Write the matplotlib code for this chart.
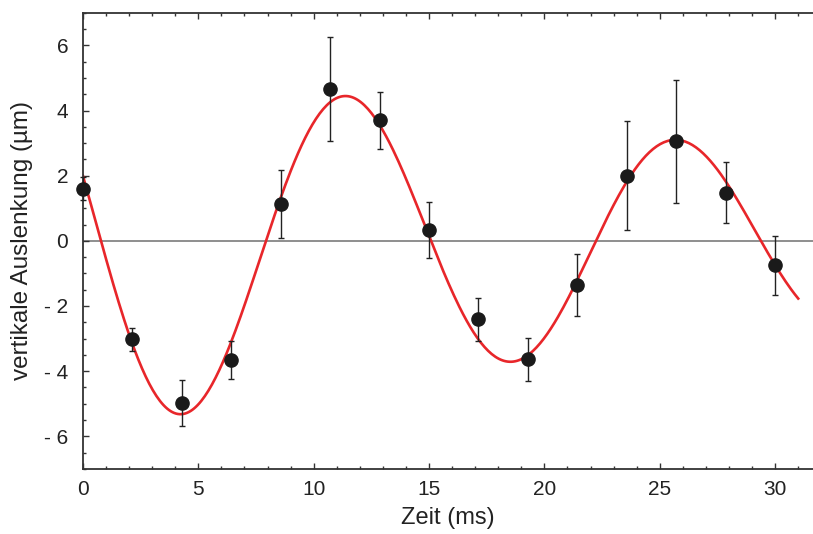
import numpy as np
import matplotlib
matplotlib.use("Agg")
import matplotlib.pyplot as plt
from matplotlib.ticker import MultipleLocator, FuncFormatter

plt.rcParams['font.family'] = ['Liberation Sans', 'DejaVu Sans']

# Messpunkte (Zeit in ms, Auslenkung in µm, Fehler)
zeit = [0.0, 2.14, 4.29, 6.43, 8.57, 10.71, 12.86, 15.0,
        17.14, 19.29, 21.43, 23.57, 25.71, 27.86, 30.0]
auslenkung = [1.6, -3.02, -4.98, -3.66, 1.12, 4.66, 3.70, 0.33,
              -2.41, -3.64, -1.36, 2.0, 3.05, 1.48, -0.75]
fehler = [0.35, 0.35, 0.7, 0.58, 1.04, 1.6, 0.88, 0.86,
          0.67, 0.66, 0.95, 1.68, 1.9, 0.94, 0.9]

# Fitparameter der gedaempften Schwingung
amp = 5.93      # µm
tau = 39.7      # ms
periode = 14.3  # ms
phase = 1.227   # rad
t_ende = 31.0

t = np.linspace(0, t_ende, 400)
fit = amp * np.exp(-t / tau) * np.cos(2 * np.pi / periode * t + phase)

fig = plt.figure(figsize=(8.13, 5.34), dpi=100)
ax = fig.add_axes([0.102, 0.122, 0.898, 0.854])

ax.axhline(0, color='#707070', lw=1.1, zorder=1)
ax.plot(t, fit, color='#e8262a', lw=1.9, zorder=2)
ax.errorbar(zeit, auslenkung, yerr=fehler, fmt='o', color='#1a1a1a',
            ms=9.5, ecolor='#222222', elinewidth=1.0, capsize=2.2,
            capthick=1.0, zorder=3, clip_on=False)

ax.set_xlim(0, 31.64)
ax.set_ylim(-7, 7)
ax.xaxis.set_major_locator(MultipleLocator(5))
ax.xaxis.set_minor_locator(MultipleLocator(1))
ax.yaxis.set_major_locator(MultipleLocator(2))
ax.yaxis.set_minor_locator(MultipleLocator(0.5))
ax.yaxis.set_major_formatter(FuncFormatter(
    lambda v, p: ('- %d' % -v) if v < 0 else '%d' % v))

ax.spines['right'].set_visible(False)
for s in ['left', 'bottom', 'top']:
    ax.spines[s].set_color('#333333')
    ax.spines[s].set_linewidth(1.3)

ax.tick_params(which='both', direction='in', top=True, right=False,
               color='#333333', width=1.0, labelsize=15,
               labelcolor='#222222')
ax.tick_params(which='major', length=4.5)
ax.tick_params(which='minor', length=2.5)
ax.tick_params(axis='y', pad=10.5)
ax.tick_params(axis='x', pad=8)

ax.set_xlabel('Zeit (ms)', fontsize=17, color='#222222', labelpad=6)
ax.set_ylabel('vertikale Auslenkung (µm)', fontsize=17.5, color='#222222',
              labelpad=8)

fig.savefig('out.png', dpi=100)
